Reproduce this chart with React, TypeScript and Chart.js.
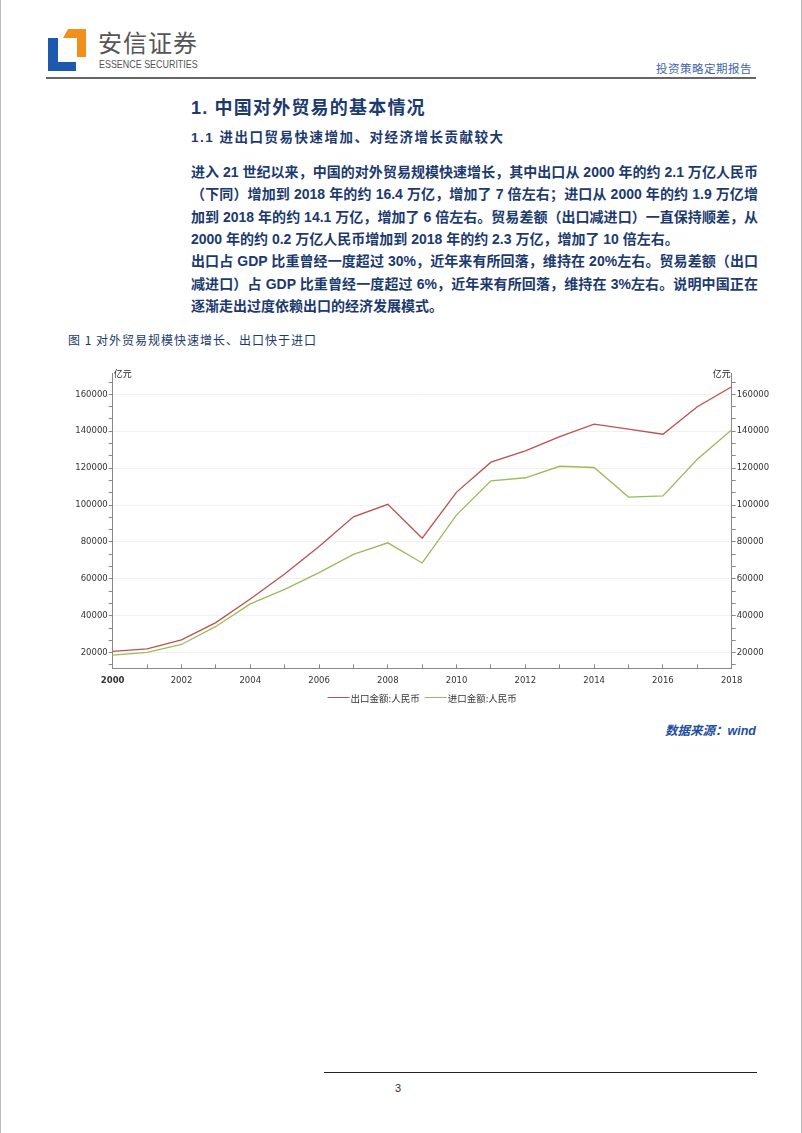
import React, { useEffect, useRef } from 'react';
import { Chart, registerables } from 'chart.js';

Chart.register(...registerables);

const years = ['2000', '2001', '2002', '2003', '2004', '2005', '2006', '2007', '2008', '2009', '2010', '2011', '2012', '2013', '2014', '2015', '2016', '2017', '2018'];
const exportValues = [20634, 22024, 26948, 36288, 49103, 62648, 77597, 93627, 100395, 82030, 107023, 123241, 129359, 137131, 143884, 141167, 138419, 153309, 164128];
const importValues = [18639, 20159, 24430, 34196, 46436, 54274, 63377, 73301, 79527, 68618, 94700, 113161, 114801, 121038, 120358, 104336, 104967, 124790, 140874];
const seriesNames = ['出口金额:人民币', '进口金额:人民币'];
const seriesColors = ['#C0504D', '#9BBB59'];
const unitLabel = '亿元';
const yMin = 11500;
const yMax = 171600;
const majorStep = 20000;
const minorDivisions = 3;

const paragraphLines = [
  '进入 21 世纪以来，中国的对外贸易规模快速增长，其中出口从 2000 年的约 2.1 万亿人民币',
  '（下同）增加到 2018 年的约 16.4 万亿，增加了 7 倍左右；进口从 2000 年的约 1.9 万亿增',
  '加到 2018 年的约 14.1 万亿，增加了 6 倍左右。贸易差额（出口减进口）一直保持顺差，从',
  '2000 年的约 0.2 万亿人民币增加到 2018 年的约 2.3 万亿，增加了 10 倍左右。',
  '出口占 GDP 比重曾经一度超过 30%，近年来有所回落，维持在 20%左右。贸易差额（出口',
  '减进口）占 GDP 比重曾经一度超过 6%，近年来有所回落，维持在 3%左右。说明中国正在',
  '逐渐走出过度依赖出口的经济发展模式。',
];
const lastLineOfParagraph = [false, false, false, true, false, false, true];

const NAVY = '#1C3A6E';
const TEXT_FONT = '"Liberation Sans", "Noto Sans CJK SC", sans-serif';

const isMajor = (v: number) => Math.abs(v / majorStep - Math.round(v / majorStep)) < 1e-6;

const buildTicks = (scale: any) => {
  const step = majorStep / minorDivisions;
  const ticks: any[] = [];
  const start = Math.ceil(yMin / step);
  for (let k = start; k * step <= yMax + 1e-6; k++) {
    const v = Math.round(k * step * 1000) / 1000;
    ticks.push({ value: isMajor(v) ? Math.round(v) : v });
  }
  scale.ticks = ticks;
};

const decorPlugin = {
  id: 'decor',
  afterDraw(chart: any) {
    const { ctx, chartArea } = chart;
    ctx.save();
    ctx.font = '9px "Noto Sans CJK SC", sans-serif';
    ctx.fillStyle = '#222';
    ctx.textBaseline = 'middle';
    ctx.textAlign = 'left';
    ctx.fillText(unitLabel, chartArea.left + 1, chartArea.top + 1);
    ctx.textAlign = 'right';
    ctx.fillText(unitLabel, chartArea.right - 1, chartArea.top + 1);

    // legend
    ctx.font = '9.5px "Noto Sans CJK SC", sans-serif';
    const lineLen = 22;
    const gapAfterLine = 1;
    const gapBetween = 5;
    const ds = chart.data.datasets;
    const widths = ds.map((d: any) => ctx.measureText(d.label).width);
    let total = 0;
    widths.forEach((w: number, i: number) => {
      total += lineLen + gapAfterLine + w + (i < widths.length - 1 ? gapBetween : 0);
    });
    let x = (chartArea.left + chartArea.right) / 2 - total / 2;
    const y = 335;
    ctx.textAlign = 'left';
    ds.forEach((d: any, i: number) => {
      ctx.strokeStyle = d.borderColor;
      ctx.lineWidth = 1;
      ctx.beginPath();
      ctx.moveTo(x, y + 0.5);
      ctx.lineTo(x + lineLen, y + 0.5);
      ctx.stroke();
      x += lineLen + gapAfterLine;
      ctx.fillStyle = '#333';
      ctx.fillText(d.label, x, y + 1);
      x += widths[i] + gapBetween;
    });
    ctx.restore();
  },
};

function TradeChart() {
  const ref = useRef<HTMLCanvasElement | null>(null);
  useEffect(() => {
    if (!ref.current) return;
    const tickFont = { family: '"DejaVu Sans", sans-serif', size: 8.5 };
    const yTicks = {
      autoSkip: false,
      padding: 1,
      color: '#333',
      font: tickFont,
      callback: (v: any) => (isMajor(Number(v)) ? String(Math.round(Number(v))) : ''),
    };
    const chart = new Chart(ref.current, {
      type: 'line',
      data: {
        labels: years,
        datasets: [
          { label: seriesNames[0], data: exportValues, borderColor: seriesColors[0], backgroundColor: seriesColors[0], borderWidth: 1.3, pointRadius: 0, tension: 0, yAxisID: 'y' },
          { label: seriesNames[1], data: importValues, borderColor: seriesColors[1], backgroundColor: seriesColors[1], borderWidth: 1.3, pointRadius: 0, tension: 0, yAxisID: 'y' },
        ],
      },
      options: {
        responsive: false,
        animation: false,
        devicePixelRatio: 1,
        layout: { padding: { top: 11, bottom: 23.7, left: 0, right: 0 } },
        plugins: { legend: { display: false }, tooltip: { enabled: false } },
        scales: {
          x: {
            type: 'category',
            offset: false,
            border: { color: '#888', width: 1 },
            grid: { drawOnChartArea: false, drawTicks: true, tickLength: -4, tickColor: '#888' },
            ticks: {
              autoSkip: false,
              maxRotation: 0,
              padding: 11,
              color: '#333',
              font: (c: any) => ({ ...tickFont, weight: c.index === 0 ? 'bold' : 'normal' }),
              callback: (_v: any, i: number) => (i % 2 === 0 ? years[i] : ''),
            },
            afterFit: (s: any) => { s.height = 20; },
          },
          y: {
            position: 'left',
            min: yMin,
            max: yMax,
            border: { color: '#888', width: 1 },
            grid: {
              drawTicks: true,
              tickLength: 4,
              color: (c: any) => (c.tick && isMajor(c.tick.value) ? '#f1f1f1' : 'rgba(0,0,0,0)'),
              tickColor: '#888',
            },
            ticks: yTicks,
            afterBuildTicks: buildTicks,
            afterFit: (s: any) => { s.width = 51.7; },
          },
          y1: {
            position: 'right',
            min: yMin,
            max: yMax,
            border: { color: '#888', width: 1 },
            grid: { drawOnChartArea: false, drawTicks: true, tickLength: 4, tickColor: '#888' },
            ticks: yTicks,
            afterBuildTicks: buildTicks,
            afterFit: (s: any) => { s.width = 51.3; },
          },
        },
      },
      plugins: [decorPlugin],
    } as any);
    return () => chart.destroy();
  }, []);
  return <canvas ref={ref} width={722} height={350} style={{ position: 'absolute', left: 60, top: 362, width: 722, height: 350 }} />;
}

export default function App() {
  return (
    <div style={{ position: 'absolute', left: 0, top: 0, width: 802, height: 1133, background: '#fff', overflow: 'hidden', fontFamily: TEXT_FONT, borderLeft: '1px solid #bbb', borderRight: '1px solid #bbb', boxSizing: 'border-box' }}>
      {/* logo */}
      <svg style={{ position: 'absolute', left: 0, top: 0 }} width={100} height={80}>
        <polygon points="47,38 57,38 57,62 75,62 75,71 47,71" fill="#1D5AAE" />
        <polygon points="67,29 85,29 85,57 76,57 76,38 62,38" fill="#F2901E" />
      </svg>
      <div style={{ position: 'absolute', left: 97, top: 27, fontSize: 24, lineHeight: '30px', color: '#555', fontFamily: '"Noto Sans CJK SC", sans-serif', letterSpacing: 1 }}>安信证券</div>
      <div style={{ position: 'absolute', left: 98, top: 58, fontSize: 10.5, lineHeight: '13px', color: '#555', fontFamily: '"Liberation Sans", sans-serif', whiteSpace: 'nowrap', transform: 'scaleX(0.85)', transformOrigin: 'left center' }}>ESSENCE SECURITIES</div>
      <div style={{ position: 'absolute', right: 49, top: 60, fontSize: 11.5, lineHeight: '16px', color: '#3E64A8', fontFamily: '"Noto Sans CJK SC", serif', letterSpacing: 0.5 }}>投资策略定期报告</div>
      <div style={{ position: 'absolute', left: 45, top: 77, width: 710, height: 2, background: '#666' }} />

      {/* section heading */}
      <div style={{ position: 'absolute', left: 190, top: 97, fontSize: 18, lineHeight: '22px', fontWeight: 'bold', color: NAVY, letterSpacing: 1.2, whiteSpace: 'nowrap' }}>1. 中国对外贸易的基本情况</div>
      <div style={{ position: 'absolute', left: 190, top: 129, fontSize: 13.5, lineHeight: '18px', fontWeight: 'bold', color: NAVY, letterSpacing: 1.5, whiteSpace: 'nowrap' }}>1.1 进出口贸易快速增加、对经济增长贡献较大</div>

      {paragraphLines.map((line, i) => (
        <div key={i} style={{ position: 'absolute', left: 190, top: 161 + i * 22.3, width: 567, fontSize: 14, lineHeight: '22px', fontWeight: 'bold', color: NAVY, whiteSpace: 'nowrap', textAlign: lastLineOfParagraph[i] ? 'left' : 'justify', textAlignLast: lastLineOfParagraph[i] ? 'left' : 'justify' } as any}>{line}</div>
      ))}

      {/* figure caption */}
      <div style={{ position: 'absolute', left: 67, top: 332, fontSize: 12, lineHeight: '16px', color: NAVY, letterSpacing: 1, whiteSpace: 'nowrap', fontFamily: '"Noto Sans CJK SC", serif' }}>图 1 对外贸易规模快速增长、出口快于进口</div>

      <TradeChart />

      <div style={{ position: 'absolute', right: 45, top: 723, fontSize: 12.5, lineHeight: '16px', color: '#1F4E9E', fontWeight: 'bold', fontStyle: 'italic', whiteSpace: 'nowrap' }}>数据来源：wind</div>

      {/* footer */}
      <div style={{ position: 'absolute', left: 323, top: 1072, width: 433, height: 1, background: '#222' }} />
      <div style={{ position: 'absolute', left: 394, top: 1081, fontSize: 11, lineHeight: '14px', color: '#333' }}>3</div>
    </div>
  );
}
